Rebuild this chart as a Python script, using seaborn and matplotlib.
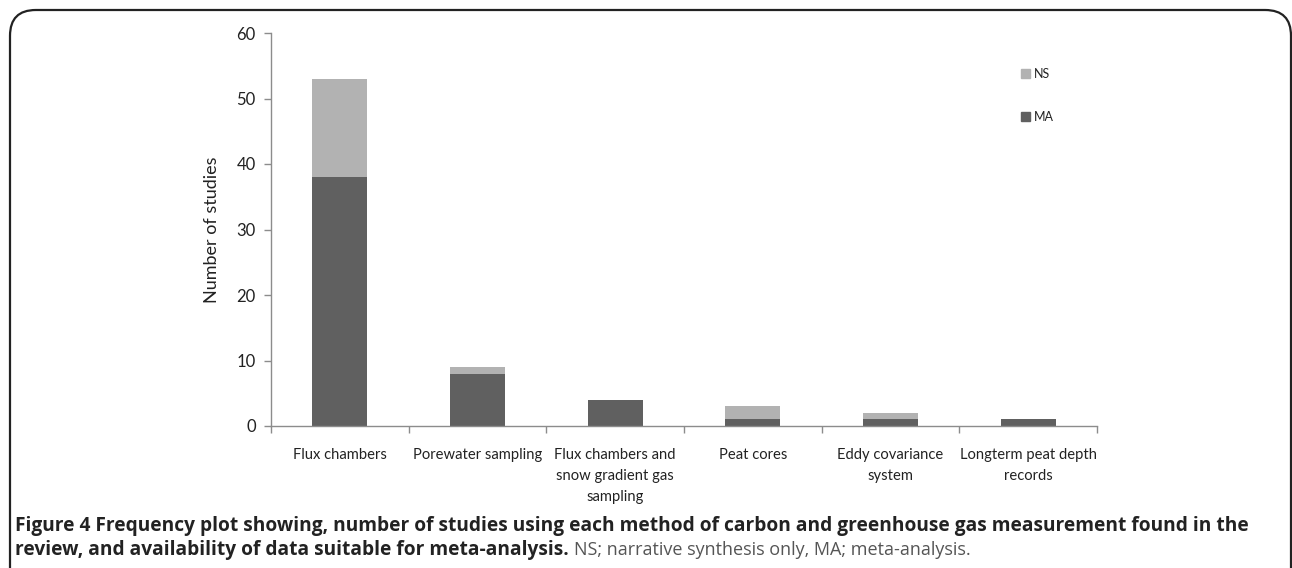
import matplotlib
matplotlib.use("Agg")
import matplotlib.pyplot as plt
from matplotlib.patches import FancyBboxPatch, Patch
import seaborn as sns
import numpy as np

methods = ["Flux chambers", "Porewater sampling",
           "Flux chambers and\nsnow gradient gas\nsampling",
           "Peat cores", "Eddy covariance\nsystem",
           "Longterm peat depth\nrecords"]
ma_values = [38, 8, 4, 1, 1, 1]
ns_values = [15, 1, 0, 2, 1, 0]
y_ticks = [0, 10, 20, 30, 40, 50, 60]

NS_COLOR = "#b2b2b2"
MA_COLOR = "#606060"
AX_COLOR = "#8c8c8c"

sns.set_theme(style="white")
plt.rcParams["font.family"] = ["Lato", "DejaVu Sans"]

fig = plt.figure(figsize=(12.92, 5.68), dpi=100)
ax = fig.add_axes([271/1292, 142/568, (1097-271)/1292, (426-33)/568])

totals = [m + n for m, n in zip(ma_values, ns_values)]
xpos = list(range(len(methods)))
sns.barplot(x=xpos, y=totals, color=NS_COLOR, width=0.4,
            saturation=1, ax=ax, native_scale=True, linewidth=0)
sns.barplot(x=xpos, y=ma_values, color=MA_COLOR, width=0.4,
            saturation=1, ax=ax, native_scale=True, linewidth=0)

ax.set_xlim(-0.5, len(methods) - 0.5)
ax.set_ylim(0, 60)
ax.set_yticks(y_ticks)
ax.set_yticklabels([str(t) for t in y_ticks], fontsize=12, color="#222222")
ax.set_xticks(np.arange(-0.5, len(methods), 1.0))
ax.set_xticklabels([])
ax.set_xticks(np.arange(len(methods)), minor=True)
ax.set_xticklabels(methods, minor=True, fontsize=10.6, color="#222222",
                   linespacing=1.62, va="top")
ax.tick_params(axis="x", which="major", direction="out", length=5,
               color=AX_COLOR, width=1, bottom=True)
ax.tick_params(axis="x", which="minor", length=0, pad=16)
ax.tick_params(axis="y", which="major", direction="out", length=5,
               color=AX_COLOR, width=1, left=True, pad=6)
for s in ["top", "right"]:
    ax.spines[s].set_visible(False)
for s in ["left", "bottom"]:
    ax.spines[s].set_color(AX_COLOR)
    ax.spines[s].set_linewidth(1)
ax.set_xlabel("")
ax.set_ylabel("Number of studies", fontsize=13, color="#222222", labelpad=12)
ax.grid(False)

handles = [Patch(color=NS_COLOR, label="NS"), Patch(color=MA_COLOR, label="MA")]
leg = ax.legend(handles=handles, loc="upper left",
                bbox_to_anchor=(1021/1292, 1 - 68/568), bbox_transform=fig.transFigure,
                frameon=False, fontsize=9, handlelength=0.75, handleheight=0.75,
                handletextpad=0.25, labelspacing=2.45, borderpad=0, borderaxespad=0)
for t in leg.get_texts():
    t.set_color("#222222")

# rounded frame around the figure panel
box = FancyBboxPatch((10/1292, -40/568), (1291-10)/1292, (558+40)/568,
                     boxstyle="round,pad=0,rounding_size=0.02",
                     transform=fig.transFigure, fill=False, edgecolor="#222222",
                     linewidth=1.6, mutation_aspect=1292/568, clip_on=False)
fig.patches.append(box)

cap_fs = 13.8
fig.text(15/1292, 1 - 531/568, "Figure 4 Frequency plot showing, number of studies using each method of "
         "carbon and greenhouse gas measurement found in the",
         fontsize=cap_fs, fontweight="bold", color="#222222", va="baseline",
         family=["Open Sans", "DejaVu Sans"])
t1 = fig.text(15/1292, 1 - 555/568, "review, and availability of data suitable for meta-analysis.",
              fontsize=cap_fs, fontweight="bold", color="#222222", va="baseline",
              family=["Open Sans", "DejaVu Sans"])
fig.canvas.draw()
bb = t1.get_window_extent()
x_end = bb.x1 / fig.bbox.width
fig.text(x_end + 5/1292, 1 - 555/568, "NS; narrative synthesis only, MA; meta-analysis.",
         fontsize=cap_fs - 0.8, color="#555555", va="baseline",
         family=["Open Sans", "DejaVu Sans"])

fig.savefig("out.png", dpi=100)
